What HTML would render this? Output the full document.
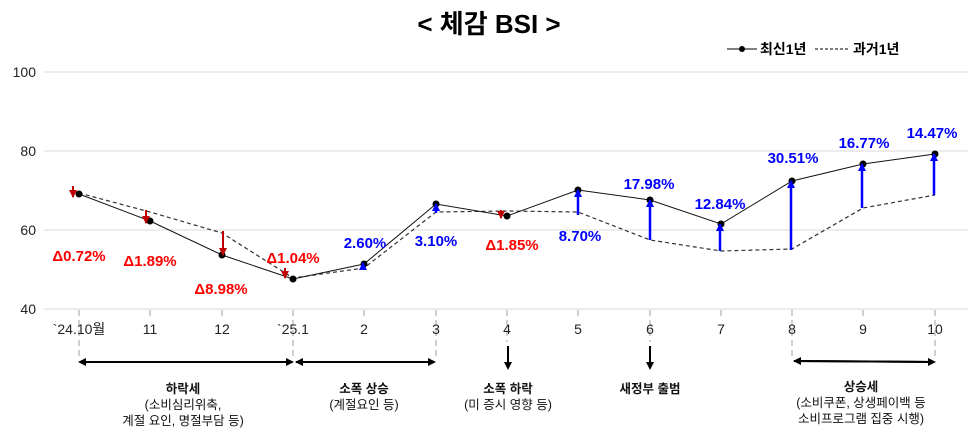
<!DOCTYPE html>
<html><head><meta charset="utf-8"><style>
body{margin:0;background:#fff;}
svg{display:block;font-family:"Liberation Sans","Noto Sans CJK KR",sans-serif;}
</style></head><body>
<svg width="970" height="439" viewBox="0 0 970 439" xmlns="http://www.w3.org/2000/svg">
<defs>
<marker id="ab" markerWidth="8" markerHeight="8" refX="6" refY="4" orient="auto" markerUnits="userSpaceOnUse"><path d="M0,0 L8,4 L0,8 z" fill="#000"/></marker>
<marker id="ar" markerWidth="8" markerHeight="8" refX="7" refY="4" orient="auto" markerUnits="userSpaceOnUse"><path d="M0,0 L8,4 L0,8 z" fill="#c00000"/></marker>
<marker id="au" markerWidth="8" markerHeight="8" refX="7" refY="4" orient="auto" markerUnits="userSpaceOnUse"><path d="M0,0 L8,4 L0,8 z" fill="#0000ff"/></marker>
</defs>
<text x="489" y="33" text-anchor="middle" font-size="26" font-weight="bold">&lt; 체감 BSI &gt;</text>
<line x1="727" y1="49" x2="757" y2="49" stroke="#000"/><circle cx="742" cy="49" r="3" fill="#000"/>
<text x="760" y="54" font-size="14" font-weight="bold">최신1년</text>
<line x1="815" y1="49" x2="848" y2="49" stroke="#000" stroke-dasharray="3,2"/>
<text x="853" y="54" font-size="14" font-weight="bold">과거1년</text>
<g stroke="#d9d9d9" stroke-width="1">
<line x1="44" y1="72" x2="968" y2="72"/><line x1="44" y1="151" x2="968" y2="151"/>
<line x1="44" y1="230" x2="968" y2="230"/><line x1="44" y1="309" x2="968" y2="309"/>
</g>
<g font-size="14" fill="#222" text-anchor="end">
<text x="36" y="77">100</text><text x="36" y="156">80</text><text x="36" y="235">60</text><text x="36" y="314">40</text>
</g>
<g stroke="#d0d0d0" stroke-width="2" stroke-dasharray="6,4">
<line x1="79" y1="310" x2="79" y2="358"/><line x1="150" y1="310" x2="150" y2="318"/><line x1="222" y1="310" x2="222" y2="318"/>
<line x1="293" y1="310" x2="293" y2="358"/><line x1="364" y1="310" x2="364" y2="318"/><line x1="436" y1="310" x2="436" y2="358"/>
<line x1="507" y1="310" x2="507" y2="342"/><line x1="578" y1="310" x2="578" y2="318"/><line x1="650" y1="310" x2="650" y2="342"/>
<line x1="721" y1="310" x2="721" y2="318"/><line x1="792" y1="310" x2="792" y2="358"/><line x1="863" y1="310" x2="863" y2="318"/>
<line x1="935" y1="310" x2="935" y2="358"/>
</g>
<g font-size="14" fill="#222" text-anchor="middle">
<text x="79" y="334">`24.10월</text><text x="150" y="334">11</text><text x="222" y="334">12</text><text x="293" y="334">`25.1</text>
<text x="364" y="334">2</text><text x="436" y="334">3</text><text x="507" y="334">4</text><text x="578" y="334">5</text>
<text x="650" y="334">6</text><text x="721" y="334">7</text><text x="792" y="334">8</text><text x="863" y="334">9</text><text x="935" y="334">10</text>
</g>
<polyline fill="none" stroke="#333" stroke-width="1.2" stroke-dasharray="4,3" points="79,193 150,212 222,233 293,278 364,268 436,212 507,211 578,212 650,240 721,251 792,249 863,208 935,195"/>
<polyline fill="none" stroke="#111" stroke-width="1" points="79,194 150,221 222,255 293,279 364,264 436,204 507,216 578,190 650,200 721,224 792,181 863,164 935,154"/>
<g fill="#000">
<circle cx="79" cy="194" r="3.5"/><circle cx="150" cy="221" r="3.5"/><circle cx="222" cy="255" r="3.5"/><circle cx="293" cy="279" r="3.5"/>
<circle cx="364" cy="264" r="3.5"/><circle cx="436" cy="204" r="3.5"/><circle cx="507" cy="216" r="3.5"/><circle cx="578" cy="190" r="3.5"/>
<circle cx="650" cy="200" r="3.5"/><circle cx="721" cy="224" r="3.5"/><circle cx="792" cy="181" r="3.5"/><circle cx="863" cy="164" r="3.5"/><circle cx="935" cy="154" r="3.5"/>
</g>
<g stroke="#c00000" stroke-width="2" marker-end="url(#ar)">
<line x1="73" y1="186" x2="73" y2="197"/><line x1="146" y1="210" x2="146" y2="223"/><line x1="223" y1="231" x2="223" y2="255"/>
<line x1="285" y1="268" x2="285" y2="278"/><line x1="501" y1="210" x2="501" y2="218"/>
</g>
<g stroke="#0000ff" stroke-width="2.5" marker-end="url(#au)">
<line x1="363" y1="270" x2="363" y2="263"/><line x1="436" y1="213" x2="436" y2="204"/><line x1="578" y1="215" x2="578" y2="190"/>
<line x1="650" y1="240" x2="650" y2="200"/><line x1="720" y1="251" x2="720" y2="224"/><line x1="791" y1="250" x2="791" y2="181"/>
<line x1="862" y1="208" x2="862" y2="164"/><line x1="934" y1="195" x2="934" y2="154"/>
</g>
<g font-size="15" font-weight="bold" fill="#ff0000" text-anchor="middle">
<text x="79" y="261">Δ0.72%</text><text x="150" y="266">Δ1.89%</text><text x="221" y="294">Δ8.98%</text>
<text x="293" y="263">Δ1.04%</text><text x="512" y="250">Δ1.85%</text>
</g>
<g font-size="15" font-weight="bold" fill="#0000ff" text-anchor="middle">
<text x="365" y="248">2.60%</text><text x="436" y="246">3.10%</text><text x="580" y="241">8.70%</text>
<text x="649" y="189">17.98%</text><text x="720" y="209">12.84%</text><text x="793" y="163">30.51%</text>
<text x="864" y="148">16.77%</text><text x="932" y="138">14.47%</text>
</g>
<g stroke="#000" stroke-width="2">
<line x1="80" y1="362" x2="292" y2="362" marker-end="url(#ab)"/>
<line x1="292" y1="362" x2="80" y2="362" marker-end="url(#ab)"/>
<line x1="296" y1="362" x2="434" y2="362" marker-end="url(#ab)"/>
<line x1="434" y1="362" x2="297" y2="362" marker-end="url(#ab)"/>
<line x1="794" y1="361" x2="934" y2="362" marker-end="url(#ab)"/>
<line x1="934" y1="362" x2="795" y2="361" marker-end="url(#ab)"/>
<line x1="508" y1="346" x2="508" y2="368" marker-end="url(#ab)"/>
<line x1="650" y1="346" x2="650" y2="368" marker-end="url(#ab)"/>
</g>
<g font-size="12.5" fill="#111" text-anchor="middle">
<text x="183" y="393" font-weight="bold">하락세</text><text x="183" y="409">(소비심리위축,</text><text x="183" y="425">계절 요인, 명절부담 등)</text>
<text x="364" y="393" font-weight="bold">소폭 상승</text><text x="364" y="409">(계절요인 등)</text>
<text x="508" y="393" font-weight="bold">소폭 하락</text><text x="508" y="409">(미 증시 영향 등)</text>
<text x="650" y="393" font-weight="bold">새정부 출범</text>
<text x="861" y="391" font-weight="bold">상승세</text><text x="861" y="407">(소비쿠폰, 상생페이백 등</text><text x="861" y="423">소비프로그램 집중 시행)</text>
</g>
</svg>
</body></html>
